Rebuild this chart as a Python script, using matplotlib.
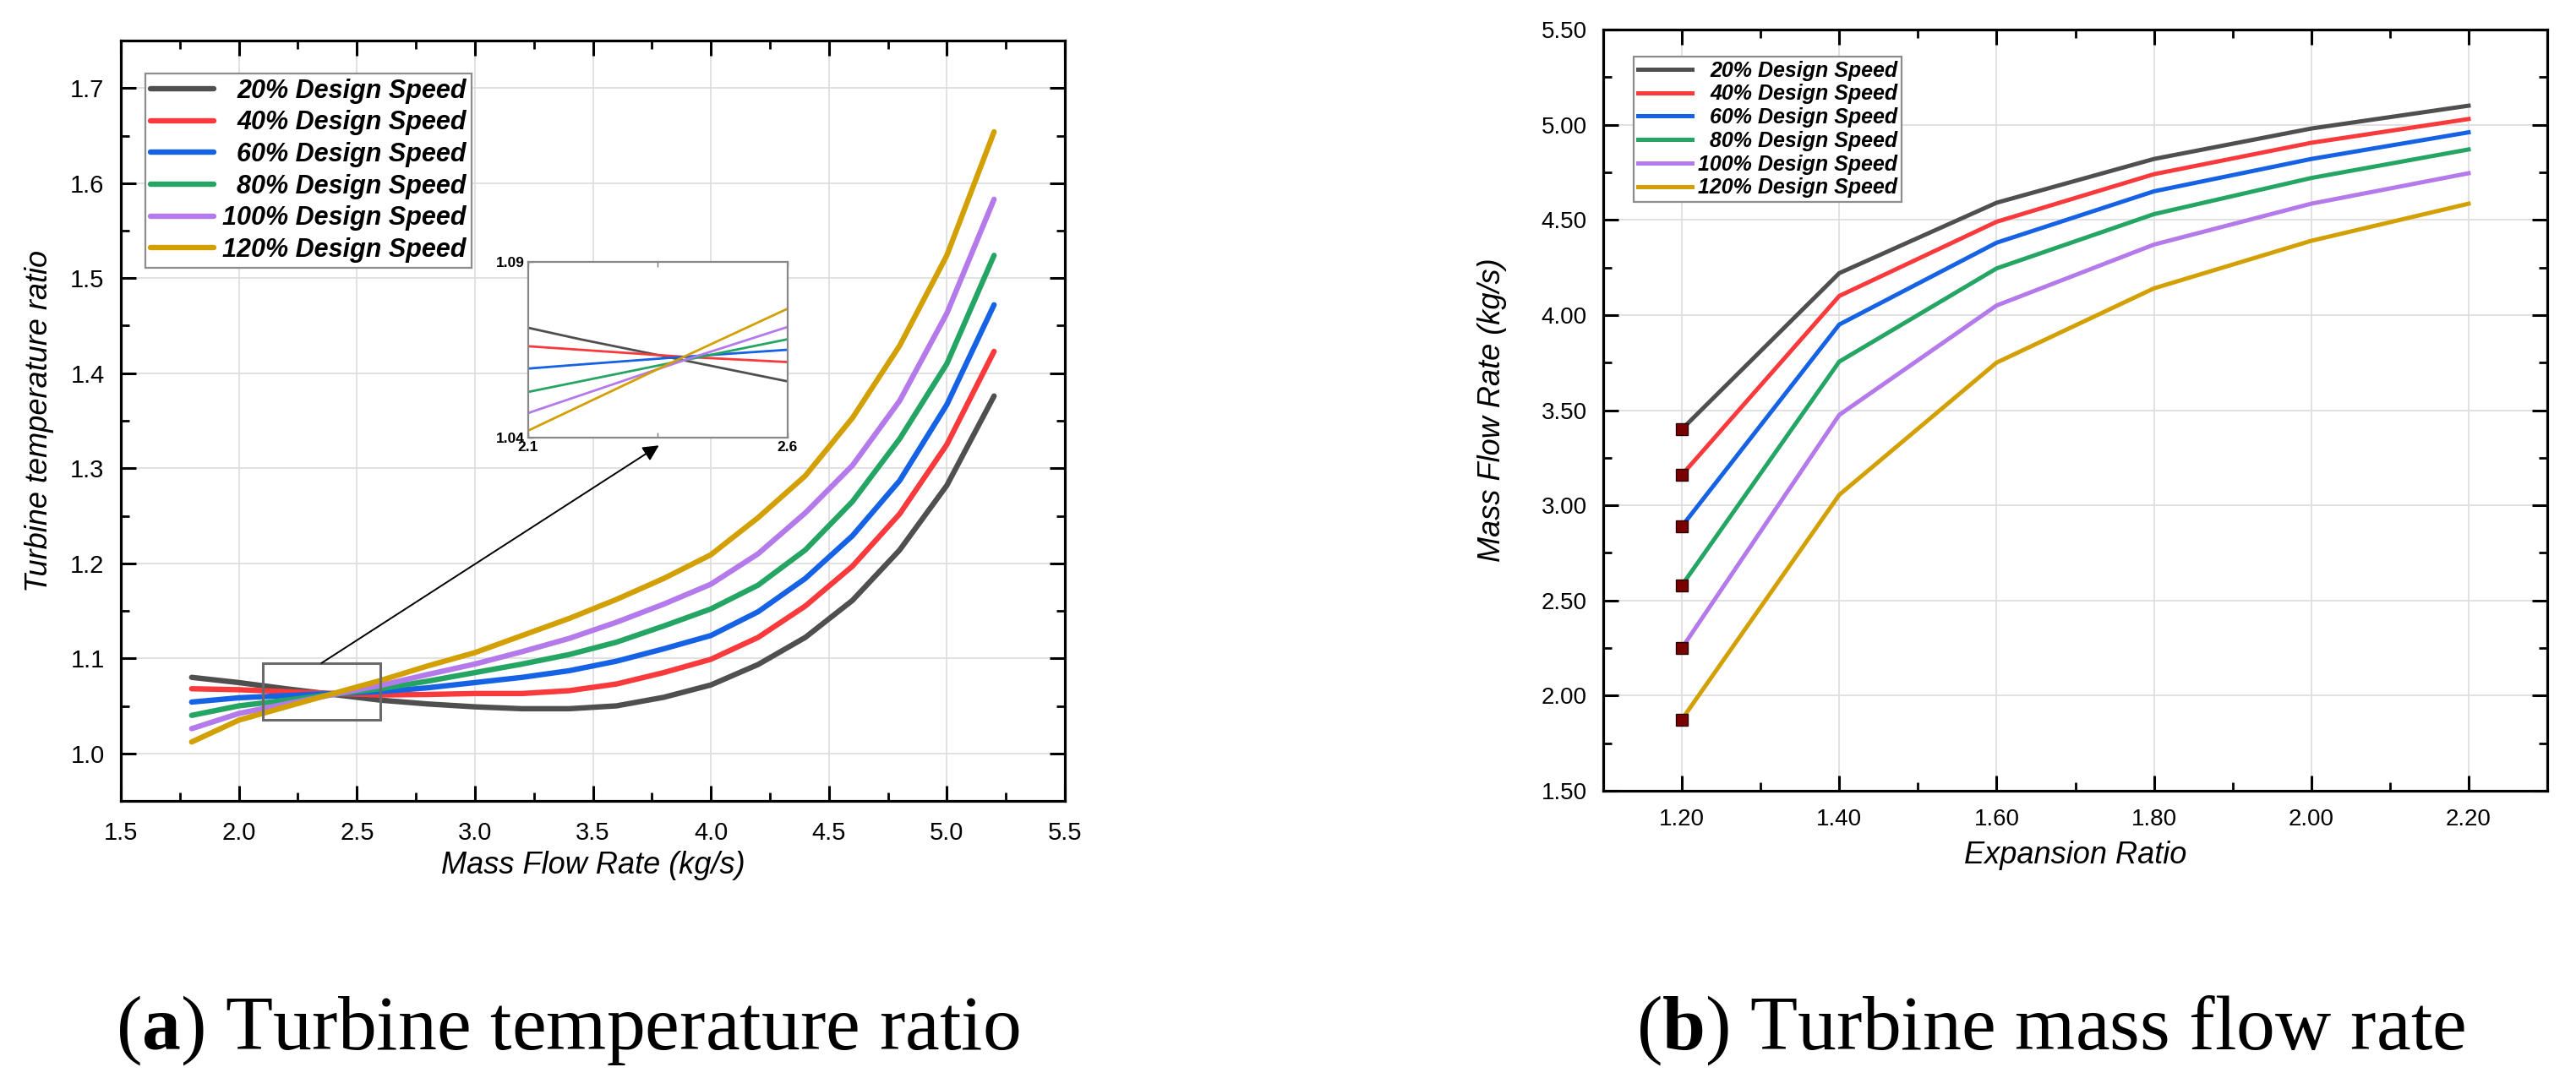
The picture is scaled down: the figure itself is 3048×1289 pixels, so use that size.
import matplotlib
matplotlib.use("Agg")
import matplotlib.pyplot as plt
from matplotlib.ticker import MultipleLocator, FormatStrFormatter
from matplotlib.patches import Rectangle

# ---------------- data ----------------
labels = ["20% Design Speed", "40% Design Speed", "60% Design Speed",
          "80% Design Speed", "100% Design Speed", "120% Design Speed"]
colors = ["#4f4f4f", "#f83a3c", "#1562e4", "#25a563", "#b479ea", "#d3a003"]

# (a) turbine temperature ratio vs mass flow rate
mass_flow = [1.8, 2.0, 2.2, 2.4, 2.6, 2.8, 3.0, 3.2, 3.4, 3.6, 3.8, 4.0,
             4.2, 4.4, 4.6, 4.8, 5.0, 5.2]
tr_20 = [1.080, 1.0745, 1.068, 1.062, 1.056, 1.052, 1.049, 1.047, 1.047, 1.050,
         1.059, 1.072, 1.0935, 1.122, 1.161, 1.214, 1.282, 1.376]
tr_40 = [1.068, 1.067, 1.065, 1.063, 1.0615, 1.062, 1.063, 1.063, 1.066, 1.073,
         1.085, 1.099, 1.122, 1.155, 1.197, 1.252, 1.325, 1.423]
tr_60 = [1.054, 1.0585, 1.0608, 1.063, 1.065, 1.069, 1.0745, 1.080, 1.087, 1.097,
         1.110, 1.124, 1.149, 1.184, 1.229, 1.287, 1.367, 1.472]
tr_80 = [1.040, 1.050, 1.056, 1.062, 1.068, 1.076, 1.085, 1.094, 1.104, 1.117,
         1.134, 1.152, 1.177, 1.214, 1.265, 1.331, 1.410, 1.524]
tr_100 = [1.026, 1.042, 1.052, 1.062, 1.0715, 1.083, 1.094, 1.107, 1.121, 1.138,
          1.157, 1.178, 1.210, 1.253, 1.303, 1.371, 1.463, 1.583]
tr_120 = [1.012, 1.035, 1.049, 1.063, 1.0767, 1.092, 1.106, 1.124, 1.142, 1.162,
          1.184, 1.209, 1.248, 1.292, 1.353, 1.429, 1.524, 1.654]
temp_series = [tr_20, tr_40, tr_60, tr_80, tr_100, tr_120]

# (b) turbine mass flow rate vs expansion ratio
expansion = [1.2, 1.4, 1.6, 1.8, 2.0, 2.2]
mf_20 = [3.40, 4.22, 4.59, 4.82, 4.98, 5.10]
mf_40 = [3.16, 4.10, 4.49, 4.74, 4.905, 5.03]
mf_60 = [2.89, 3.95, 4.38, 4.65, 4.82, 4.96]
mf_80 = [2.58, 3.755, 4.245, 4.53, 4.72, 4.87]
mf_100 = [2.25, 3.475, 4.05, 4.37, 4.585, 4.745]
mf_120 = [1.875, 3.055, 3.75, 4.14, 4.39, 4.585]
flow_series = [mf_20, mf_40, mf_60, mf_80, mf_100, mf_120]

left_xlim, left_ylim = (1.5, 5.5), (0.95, 1.75)
right_xlim, right_ylim = (1.1, 2.3), (1.5, 5.5)
zoom_x, zoom_y = (2.1, 2.6), (1.04, 1.09)
zoom_box_y = (1.035, 1.095)

# ---------------- layout ----------------
W, H = 3048, 1289
fig = plt.figure(figsize=(W / 100, H / 100), dpi=100)
plt.rcParams["mathtext.fontset"] = "custom"
plt.rcParams["mathtext.rm"] = "Liberation Serif"
plt.rcParams["mathtext.bf"] = "Liberation Serif:bold"

SANS = ["Liberation Sans", "DejaVu Sans"]


def px_rect(x0, y0, x1, y1):
    return [x0 / W, 1 - y1 / H, (x1 - x0) / W, (y1 - y0) / H]


def style_axes(ax, xmaj, xmin, ymaj, ymin, fmt, lsize, xpad, ypad):
    for s in ax.spines.values():
        s.set_linewidth(2.3)
        s.set_color("black")
    ax.xaxis.set_major_locator(MultipleLocator(xmaj))
    ax.xaxis.set_minor_locator(MultipleLocator(xmin))
    ax.yaxis.set_major_locator(MultipleLocator(ymaj))
    ax.yaxis.set_minor_locator(MultipleLocator(ymin))
    ax.xaxis.set_major_formatter(FormatStrFormatter(fmt))
    ax.yaxis.set_major_formatter(FormatStrFormatter(fmt))
    ax.tick_params(which="both", direction="in", top=True, right=True,
                   labeltop=False, labelright=False, color="black")
    ax.tick_params(which="major", length=13, width=2.2, labelsize=lsize)
    ax.tick_params(which="minor", length=7, width=2.0)
    ax.tick_params(axis="x", which="major", pad=xpad)
    ax.tick_params(axis="y", which="major", pad=ypad)
    for t in ax.get_xticklabels() + ax.get_yticklabels():
        t.set_fontfamily(SANS)
    ax.grid(True, which="major", color="#dedede", lw=1.3)
    ax.set_axisbelow(True)


def right_align_legend(leg):
    fig.canvas.draw()
    r = fig.canvas.get_renderer()
    texts = leg.get_texts()
    widths = [t.get_window_extent(r).width for t in texts]
    wmax = max(widths)
    for t, w in zip(texts, widths):
        t.set_position((wmax - w, 0))


# ---------------- (a) ----------------
ax1 = fig.add_axes(px_rect(143, 48, 1260, 948))
for y, c, lab in zip(temp_series, colors, labels):
    ax1.plot(mass_flow, y, color=c, lw=4.6, label=lab,
             solid_joinstyle="round", solid_capstyle="round", zorder=3)
ax1.set_xlim(*left_xlim)
ax1.set_ylim(*left_ylim)
style_axes(ax1, 0.5, 0.25, 0.1, 0.05, "%.1f", 21, 17, 14)
ax1.set_xlabel("Mass Flow Rate (kg/s)", fontsize=26, style="italic",
               family=SANS, va="center")
ax1.xaxis.set_label_coords(0.5, (948 - 1025) / 900)
ax1.set_ylabel("Turbine temperature ratio", fontsize=26, style="italic",
               family=SANS, va="center")
ax1.yaxis.set_label_coords((46 - 143) / 1117, 0.5)

ax1.add_patch(Rectangle((zoom_x[0], zoom_box_y[0]), zoom_x[1] - zoom_x[0],
                        zoom_box_y[1] - zoom_box_y[0], fill=False,
                        edgecolor="#6a6a6a", lw=2.2, zorder=5))
ax1.annotate("", xy=(3.78, 1.324), xytext=(2.35, zoom_box_y[1]),
             arrowprops=dict(arrowstyle="-|>", color="black", lw=1.4,
                             mutation_scale=28, shrinkA=0, shrinkB=0),
             zorder=6)

leg1 = ax1.legend(loc="upper left", bbox_to_anchor=((171.7 - 143) / 1117, (948 - 86.7) / 900),
                  borderaxespad=0, fancybox=False, framealpha=1,
                  edgecolor="#8c8c8c", handlelength=2.45, handletextpad=0.35,
                  borderpad=0.2, labelspacing=0.25,
                  prop=dict(family=SANS, weight="bold", style="italic", size=22))
leg1.get_frame().set_linewidth(1.6)
for h in leg1.get_lines():
    h.set_linewidth(4.6)

# inset
axin = fig.add_axes(px_rect(625, 310, 932, 518))
for y, c in zip(temp_series, colors):
    axin.plot(mass_flow, y, color=c, lw=2.0)
axin.set_xlim(*zoom_x)
axin.set_ylim(*zoom_y)
axin.set_xticks(list(zoom_x))
axin.set_yticks(list(zoom_y))
axin.set_xticks([sum(zoom_x) / 2], minor=True)
axin.xaxis.set_major_formatter(FormatStrFormatter("%.1f"))
axin.yaxis.set_major_formatter(FormatStrFormatter("%.2f"))
axin.tick_params(which="both", direction="in", length=4, width=1, color="#777777",
                 top=True, labelsize=12.5, pad=3)
for t in axin.get_xticklabels() + axin.get_yticklabels():
    t.set_fontweight("bold")
    t.set_fontfamily(SANS)
for s in axin.spines.values():
    s.set_color("#888888")
    s.set_linewidth(1.6)

# ---------------- (b) ----------------
ax2 = fig.add_axes(px_rect(1897, 35, 3014, 936))
for y, c, lab in zip(flow_series, colors, labels):
    ax2.plot(expansion, y, color=c, lw=3.6, label=lab, zorder=3)
for y in flow_series:
    ax2.plot(expansion[0], y[0], "s", ms=10.5, mfc="#7a0000", mec="#2a0000",
             mew=1.0, zorder=4)
ax2.set_xlim(*right_xlim)
ax2.set_ylim(*right_ylim)
style_axes(ax2, 0.2, 0.1, 0.5, 0.25, "%.2f", 20, 15, 14)
ax2.set_xlabel("Expansion Ratio", fontsize=26, style="italic", family=SANS, va="center")
ax2.xaxis.set_label_coords(0.5, (936 - 1013) / 901)
ax2.set_ylabel("Mass Flow Rate (kg/s)", fontsize=26, style="italic", family=SANS,
               va="center")
ax2.yaxis.set_label_coords((1765 - 1897) / 1117, 0.5)

leg2 = ax2.legend(handles=ax2.get_lines()[:6], loc="upper left",
                  bbox_to_anchor=((1933 - 1897) / 1117, (936 - 66.7) / 901),
                  borderaxespad=0, fancybox=False, framealpha=1,
                  edgecolor="#8c8c8c", handlelength=2.55, handletextpad=0.3,
                  borderpad=0.2, labelspacing=0.15,
                  prop=dict(family=SANS, weight="bold", style="italic", size=18))
leg2.get_frame().set_linewidth(1.6)

right_align_legend(leg1)
right_align_legend(leg2)

# captions
fig.text(672 / W, 1 - 1241.7 / H, r"($\mathbf{a}$) Turbine temperature ratio",
         ha="center", va="baseline", fontsize=66, family="Liberation Serif")
fig.text(2426 / W, 1 - 1241.7 / H, r"($\mathbf{b}$) Turbine mass flow rate",
         ha="center", va="baseline", fontsize=66, family="Liberation Serif")

fig.savefig("out.png", dpi=100)
